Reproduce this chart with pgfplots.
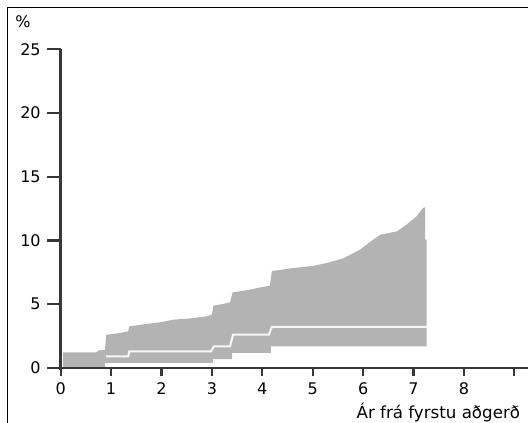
\documentclass[border=0pt]{standalone}
\usepackage{pgfplots}
\pgfplotsset{compat=1.18}
\usepackage{fontspec}
\setmainfont{DejaVu Sans}
\definecolor{band}{RGB}{179,179,179}
\definecolor{axiscol}{RGB}{55,55,55}

\begin{document}
\begin{tikzpicture}
\begin{axis}[
  x=37.8pt, y=9.5625pt,
  xmin=-0.25, xmax=9.272, ymin=-0.15, ymax=25,
  axis lines=middle,
  axis line style={axiscol, line width=2pt, -},
  every inner x axis line/.append style={-},
  every inner y axis line/.append style={-},
  hide obscured x ticks=false, hide obscured y ticks=false,
  xtick={0,...,8}, ytick={0,5,...,25},
  tick align=outside, major tick length=10pt,
  ytick style={axiscol, line width=1.6pt},
  xtick style={draw=none},
  xticklabel style={yshift=2.5pt},
  yticklabel style={xshift=-1.5pt},
  tick label style={font=\fontsize{12}{14}\selectfont},
  /pgf/number format/assume math mode=true,
  axis on top,
  clip=false,
]
% confidence band
\addplot[fill=band, draw=none] coordinates {
(0.05,0) (0.05,1.23) (0.7,1.23) (0.78,1.4) (0.88,1.4) (0.9,2.6) (1.1,2.7)
(1.34,2.87) (1.36,3.26) (1.7,3.45) (2.0,3.6) (2.24,3.79) (2.6,3.9) (2.9,4.05)
(3.0,4.2) (3.03,4.89) (3.2,5.0) (3.36,5.15) (3.41,5.93) (3.7,6.1) (4.0,6.35)
(4.15,6.45) (4.19,7.6) (4.62,7.84) (5.0,8.0) (5.28,8.23) (5.61,8.6) (5.94,9.28)
(6.2,10.06) (6.34,10.45) (6.67,10.71) (6.86,11.24) (7.06,11.89) (7.19,12.55)
(7.23,12.6) (7.23,10.06) (7.26,10.06) (7.26,1.7) (4.17,1.7) (4.17,1.18)
(3.4,1.18) (3.4,0.7) (3.02,0.7) (3.02,0.39) (0.88,0.39) (0.88,0)
};
% estimate
\addplot[draw=white!94!gray, line width=1.5pt] coordinates {
(0.9,0.91) (1.34,0.91) (1.36,1.3) (2.98,1.3) (3.04,1.7) (3.36,1.7)
(3.42,2.61) (4.13,2.61) (4.19,3.22) (7.27,3.22)
};
\pgfplotsinvokeforeach{0,...,9}{
  \draw[axiscol, line width=1.6pt] (axis cs:#1,0) -- ([yshift=-6pt]axis cs:#1,0);
}
\node[font=\fontsize{12}{14}\selectfont] at (axis cs:-0.748,27.14) {\%};
\node[font=\fontsize{12.5}{15}\selectfont, anchor=base east, inner sep=0pt]
  at (axis cs:9.12,-3.95) {Ár frá fyrstu aðgerð};
\draw[line width=0.8pt, black] (axis cs:-1.046,-4.314) -- (axis cs:-1.046,28.24)
  -- (axis cs:9.272,28.24);
\coordinate (bbll) at (axis cs:-1.204,-4.314);
\coordinate (bbur) at (axis cs:9.272,28.86);
\end{axis}
\pgfresetboundingbox
\useasboundingbox (bbll) rectangle (bbur);
\end{tikzpicture}
\end{document}
